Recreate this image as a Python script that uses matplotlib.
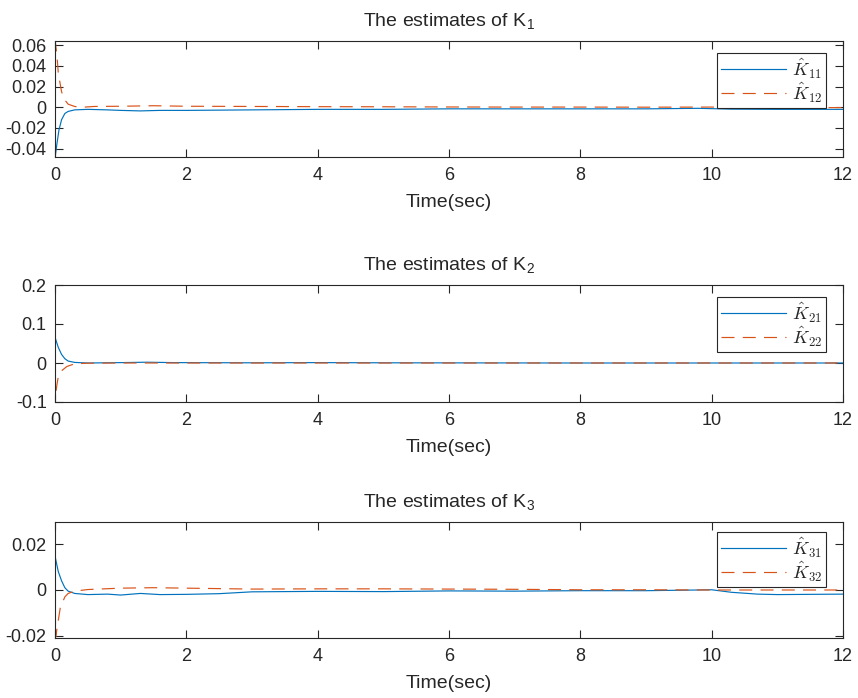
import matplotlib
matplotlib.use("Agg")
import matplotlib.pyplot as plt
from matplotlib.ticker import FuncFormatter

plt.rcParams['font.family'] = ['Liberation Sans', 'DejaVu Sans']
plt.rcParams['mathtext.fontset'] = 'cm'
plt.rcParams['axes.unicode_minus'] = False

# ---- data ----
t11 = [0, 0.002, 0.03, 0.06, 0.1, 0.15, 0.2, 0.3, 0.5, 0.8, 1.0, 1.3, 1.6, 2.0, 3.0, 4.0, 5.0, 6.0, 7.0, 8.0, 9.0, 9.8, 10.3, 11.0, 12.0]
k11 = [0, -0.048, -0.035, -0.022, -0.012, -0.006, -0.004, -0.0025, -0.002, -0.0025, -0.003, -0.0035, -0.003, -0.003, -0.0025, -0.002, -0.002, -0.0015, -0.0015, -0.0015, -0.0015, -0.001, -0.0018, -0.002, -0.002]
t12 = [0, 0.002, 0.03, 0.05, 0.1, 0.15, 0.2, 0.3, 0.4, 0.6, 1.0, 1.5, 2.0, 3.0, 4.0, 5.0, 6.0, 7.0, 8.0, 9.0, 10.0, 10.5, 11.0, 12.0]
k12 = [0, 0.064, 0.05, 0.033, 0.015, 0.007, 0.003, 0.0008, 0, 0.0008, 0.001, 0.0015, 0.001, 0.0008, 0.0006, 0.0005, 0.0003, 0.0002, 0.0002, 0.0001, 0.0002, -0.0002, -0.0003, -0.0003]

t21 = [0, 0.002, 0.05, 0.1, 0.15, 0.2, 0.3, 0.5, 1.0, 1.4, 1.8, 3.0, 4.0, 5.0, 8.0, 12.0]
k21 = [0, 0.065, 0.04, 0.022, 0.011, 0.005, 0.0015, 0, 0.001, 0.002, 0.001, 0.0005, 0.001, 0.0005, 0, 0]
t22 = [0, 0.002, 0.03, 0.05, 0.1, 0.18, 0.3, 0.5, 1.0, 2.0, 12.0]
k22 = [0, -0.09, -0.055, -0.035, -0.02, -0.009, -0.002, -0.0005, 0, 0, 0]

t31 = [0, 0.002, 0.05, 0.1, 0.15, 0.2, 0.3, 0.5, 0.8, 1.0, 1.3, 1.6, 2.0, 2.5, 3.0, 4.0, 5.0, 6.0, 7.0, 8.0, 9.0, 9.8, 10.0, 10.3, 10.7, 11.0, 12.0]
k31 = [0, 0.0145, 0.008, 0.004, 0.001, -0.0005, -0.0015, -0.002, -0.0018, -0.0022, -0.0015, -0.002, -0.0019, -0.0016, -0.0008, -0.0006, -0.0007, -0.0004, -0.0005, -0.0003, -0.0003, 0, 0.0001, -0.001, -0.0018, -0.002, -0.0018]
t32 = [0, 0.01, 0.08, 0.15, 0.2, 0.3, 0.5, 1.0, 1.5, 2.0, 3.0, 4.0, 5.0, 6.0, 7.0, 8.0, 9.0, 10.0, 11.0, 12.0]
k32 = [0, -0.0205, -0.0078, -0.003, -0.0015, -0.0005, 0.0002, 0.0008, 0.001, 0.0008, 0.0004, 0.0005, 0.0005, 0.0004, 0.0003, 0.0001, 0.0001, 0, 0, 0]

titles = ['The estimates of K$_\\mathregular{1}$', 'The estimates of K$_\\mathregular{2}$', 'The estimates of K$_\\mathregular{3}$']
labels = [(r'$\hat{K}_{11}$', r'$\hat{K}_{12}$'), (r'$\hat{K}_{21}$', r'$\hat{K}_{22}$'), (r'$\hat{K}_{31}$', r'$\hat{K}_{32}$')]
ylims = [(-0.048, 0.064), (-0.1, 0.2), (-0.0209, 0.0296)]
yticks = [[-0.04, -0.02, 0, 0.02, 0.04, 0.06], [-0.1, 0, 0.1, 0.2], [-0.02, 0, 0.02]]
xticks = [0, 2, 4, 6, 8, 10, 12]
series = [((t11, k11), (t12, k12)), ((t21, k21), (t22, k22)), ((t31, k31), (t32, k32))]

W, H = 858, 698
fig = plt.figure(figsize=(W / 100, H / 100), dpi=100)
boxes = [(41, 157), (285, 402), (522, 638)]
leg_tops = [0.897, 0.897, 0.914]
tc = '#262626'
blue = '#0072BD'
red = '#D95319'

for i in range(3):
    top, bot = boxes[i]
    ax = fig.add_axes([55 / W, (H - bot) / H, 788 / W, (bot - top) / H])
    (ta, ya), (tb, yb) = series[i]
    ax.plot(ta, ya, color=blue, lw=0.85, label=labels[i][0])
    ax.plot(tb, yb, color=red, lw=0.85, linestyle=(0, (11, 7)), label=labels[i][1])
    ax.set_xlim(0, 12)
    ax.set_ylim(*ylims[i])
    ax.set_xticks(xticks)
    ax.set_yticks(yticks[i])
    ax.yaxis.set_major_formatter(FuncFormatter(lambda v, p: '%g' % round(v, 6)))
    ax.tick_params(direction='in', length=5.7, width=0.8, top=True, right=True,
                   labelsize=13, colors=tc, pad=6)
    ax.tick_params(axis='x', pad=7.5)
    for s in ax.spines.values():
        s.set_color(tc)
        s.set_linewidth(0.8)
    ax.set_xlabel('Time(sec)', fontsize=14, color=tc, labelpad=7)
    ax.set_title(titles[i], fontsize=14, color=tc, pad=10.5)
    leg = ax.legend(loc='upper right', bbox_to_anchor=(0.978, leg_tops[i]), fontsize=13,
                    frameon=True, fancybox=False, framealpha=1, edgecolor=tc,
                    handlelength=3.6, handletextpad=0.35, borderpad=0.2, labelspacing=0.0,
                    borderaxespad=0)
    leg.get_frame().set_linewidth(0.8)
    for txt in leg.get_texts():
        txt.set_color(tc)

fig.savefig('out.png', dpi=100)
